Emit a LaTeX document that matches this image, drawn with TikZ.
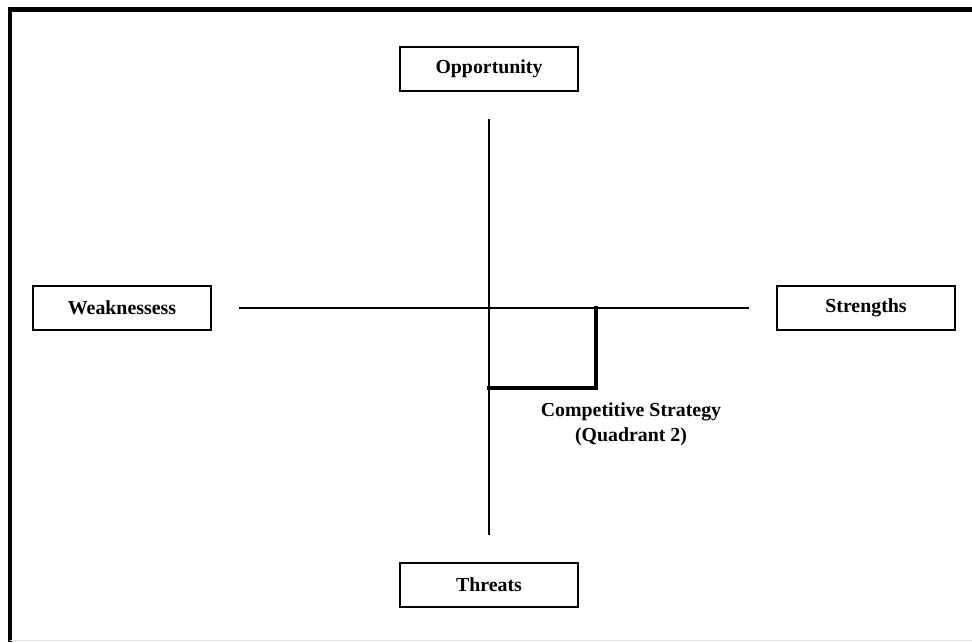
\documentclass[tikz,border=0pt]{standalone}
\usepackage{fontspec}
\setmainfont{Liberation Serif}
\begin{document}
\begin{tikzpicture}[x=0.02cm, y=-0.02cm,
    swotbox/.style={draw, line width=1.4pt, minimum width=3.56cm, minimum height=0.88cm,
        inner sep=0pt, font=\fontsize{11.3}{13.5}\selectfont\bfseries},
    axis/.style={line width=1.1pt, shorten <=0.54cm, shorten >=0.54cm},
    quadline/.style={line width=2.4pt, line cap=rect}]
    \useasboundingbox (0,0) rectangle (972,642);

    % Frame
    \draw[line width=2.4pt] (10,642) -- (10,9.5) -- (972,9.5);
    \draw[black!12, line width=0.8pt] (10,640.5) -- (972,640.5);

    % The four boxes
    \node[swotbox] (opp) at (489,69) {Opportunity};
    \node[swotbox] (thr) at (489,585) {Threats};
    \node[swotbox] (weak) at (122,308) {Weaknessess};
    \node[swotbox] (str) at (866,308) {Strengths};

    % Axes
    \draw[axis] (opp) -- (thr);
    \draw[axis] (weak) -- (str);

    % Quadrant 2
    \coordinate (qtop) at (596,308);
    \coordinate (qcorner) at (596,388);
    \coordinate (qleft) at (489,388);
    \draw[quadline] (qtop) -- (qcorner) -- (qleft);
    \node[align=center, font=\fontsize{11.3}{14.2}\selectfont\bfseries] (quad) at (631,424)
        {Competitive Strategy\\(Quadrant 2)};

\end{tikzpicture}
\end{document}
